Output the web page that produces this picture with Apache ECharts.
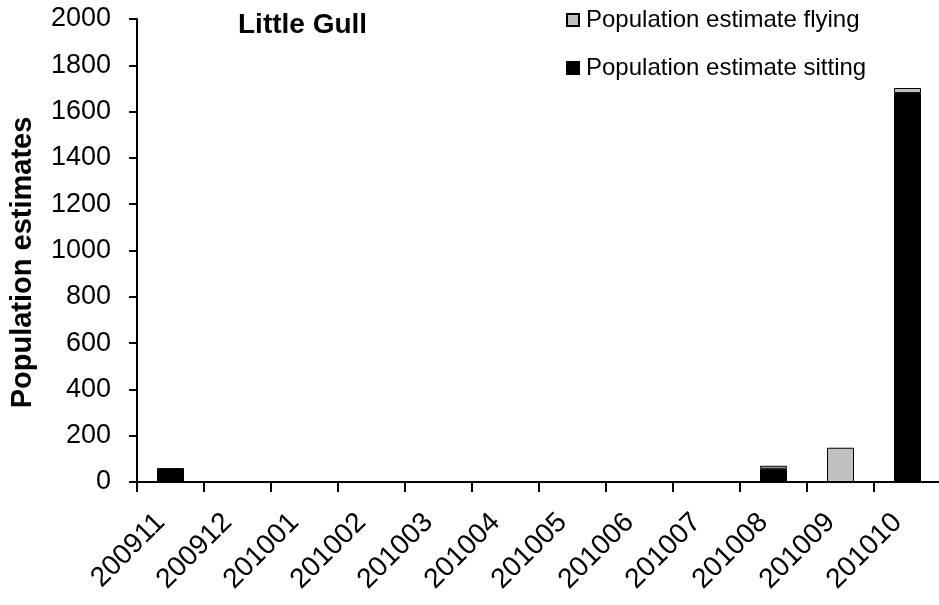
<!DOCTYPE html>
<html>
<head>
<meta charset="utf-8">
<script src="https://cdn.jsdelivr.net/npm/echarts@6/dist/echarts.min.js"></script>
<style>
  html, body { margin: 0; padding: 0; background: #fff; }
  #chart { width: 939px; height: 605px; }
</style>
</head>
<body>
<div id="chart"></div>
<script>
// Monthly survey periods (yyyymm)
const months = ['200911', '200912', '201001', '201002', '201003', '201004',
                '201005', '201006', '201007', '201008', '201009', '201010'];
// Population estimates per month
const sitting = [60, 0, 0, 0, 0, 0, 0, 0, 0, 57, 0, 1680];
const flying  = [0, 0, 0, 0, 0, 0, 0, 0, 0, 13, 148, 22];
const yTicks = { min: 0, max: 2000, interval: 200 };

const FONT = 'Liberation Sans, Arial, sans-serif';
const asBars = arr => arr.map(v => (v === 0 ? null : v));

const chart = echarts.init(document.getElementById('chart'), null, { renderer: 'canvas' });
chart.setOption({
  animation: false,
  backgroundColor: '#ffffff',
  title: {
    text: 'Little Gull',
    left: 233, top: 6,
    textStyle: { fontFamily: FONT, fontSize: 28, fontWeight: 'bold', color: '#000' }
  },
  legend: {
    orient: 'vertical',
    left: 561, top: 3,
    itemWidth: 12, itemHeight: 12,
    itemGap: 24,
    icon: 'rect',
    data: ['Population estimate flying', 'Population estimate sitting'],
    textStyle: { fontFamily: FONT, fontSize: 24, color: '#000', padding: [0, 0, 0, 2] }
  },
  grid: {
    left: 137, top: 19, width: 804, bottom: 123,
    containLabel: false, outerBoundsMode: 'none'
  },
  xAxis: {
    type: 'category',
    data: months,
    axisLine: { lineStyle: { color: '#000', width: 2 } },
    axisTick: { show: true, length: 10, lineStyle: { color: '#000', width: 2 } },
    axisLabel: {
      rotate: 45, margin: 46, interval: 0, verticalAlign: 'bottom',
      fontFamily: FONT, fontSize: 28, color: '#000'
    },
    splitLine: { show: false }
  },
  yAxis: {
    type: 'value',
    min: yTicks.min, max: yTicks.max, interval: yTicks.interval,
    name: 'Population estimates',
    nameLocation: 'middle',
    nameRotate: 90,
    nameGap: 100,
    nameTextStyle: {
      fontFamily: FONT, fontSize: 29, fontWeight: 'bold', color: '#000',
      padding: [0, 24, 0, 0]
    },
    axisLine: { show: true, lineStyle: { color: '#000', width: 2 } },
    axisTick: { show: true, inside: false, length: 8, lineStyle: { color: '#000', width: 2 } },
    axisLabel: {
      margin: 26, fontFamily: FONT, fontSize: 27, color: '#000',
      formatter: v => String(v)
    },
    splitLine: { show: false }
  },
  series: [
    {
      name: 'Population estimate sitting',
      type: 'bar',
      stack: 'total',
      barWidth: 27,
      data: asBars(sitting),
      itemStyle: { color: '#000000', borderColor: '#000000', borderWidth: 1 }
    },
    {
      name: 'Population estimate flying',
      type: 'bar',
      stack: 'total',
      barWidth: 27,
      data: asBars(flying),
      itemStyle: { color: '#c0c0c0', borderColor: '#000000', borderWidth: 1 }
    }
  ]
});
</script>
</body>
</html>
